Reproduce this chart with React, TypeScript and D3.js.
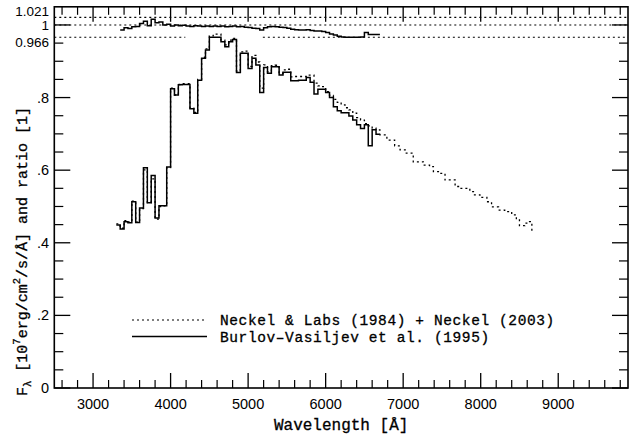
import React from "react";
import * as d3 from "d3";

const W = 633;
const H = 441;

// ---- axis settings / labels ----
const xMajorTicks = [3000, 4000, 5000, 6000, 7000, 8000, 9000];
const yMajorTicks = [0, 0.2, 0.4, 0.6, 0.8];
const yMajorLabels = ["0", ".2", ".4", ".6", ".8"];
const refLevels = [1.021, 1, 0.966];
const refLabels = ["1.021", "1", "0.966"];
const gap966 = [4190, 5190];

// ---- Burlov-Vasiljev et al. (1995): flux, 50 Å bins ----
const burlovEdges = [
  3300, 3350, 3400, 3450, 3500, 3550, 3600, 3650, 3700, 3750, 3800, 3850, 3900, 3950,
  4000, 4050, 4100, 4150, 4200, 4250, 4300, 4350, 4400, 4450, 4500, 4550, 4600, 4650,
  4700, 4750, 4800, 4850, 4900, 4950, 5000, 5050, 5100, 5150, 5200, 5250, 5300, 5350,
  5400, 5450, 5500, 5550, 5600, 5650, 5700, 5750, 5800, 5850, 5900, 5950, 6000, 6050,
  6100, 6150, 6200, 6250, 6300, 6350, 6400, 6450, 6500, 6550, 6600, 6650, 6700,
];
const burlovFlux = [
  0.449, 0.438, 0.458, 0.455, 0.513, 0.456, 0.496, 0.607, 0.51, 0.585, 0.468, 0.502, 0.502, 0.609,
  0.824, 0.807, 0.835, 0.836, 0.836, 0.769, 0.757, 0.848, 0.908, 0.931, 0.966, 0.966, 0.966, 0.954,
  0.94, 0.954, 0.96, 0.869, 0.922, 0.922, 0.88, 0.908, 0.89, 0.814, 0.883, 0.867, 0.885, 0.885,
  0.862, 0.87, 0.87, 0.846, 0.846, 0.848, 0.848, 0.855, 0.842, 0.81, 0.823, 0.823, 0.814, 0.8,
  0.775, 0.764, 0.758, 0.758, 0.749, 0.738, 0.725, 0.715, 0.725, 0.667, 0.711, 0.699,
];

// ---- Neckel & Labs (1984) + Neckel (2003): flux ----
const neckelEdges = [
  3300, 3350, 3400, 3450, 3500, 3550, 3600, 3650, 3700, 3750, 3800, 3850, 3900, 3950,
  4000, 4050, 4100, 4150, 4200, 4250, 4300, 4350, 4400, 4450, 4500, 4550, 4600, 4650,
  4700, 4750, 4800, 4850, 4900, 4950, 5000, 5050, 5100, 5150, 5200, 5250, 5300, 5350,
  5400, 5450, 5500, 5550, 5600, 5650, 5700, 5750, 5800, 5850, 5900, 5950, 6000, 6050,
  6100, 6150, 6200, 6250, 6300, 6350, 6400, 6450, 6500, 6550, 6600, 6650, 6700, 6790,
  6890, 6960, 7040, 7130, 7260, 7340, 7390, 7470, 7540, 7670, 7730, 7860, 7920, 7990,
  8080, 8140, 8230, 8310, 8400, 8460, 8500, 8570, 8630, 8660, 8680,
];
const neckelFlux = [
  0.452, 0.44, 0.461, 0.457, 0.515, 0.457, 0.494, 0.601, 0.511, 0.576, 0.465, 0.5, 0.502, 0.607,
  0.826, 0.807, 0.836, 0.838, 0.838, 0.771, 0.759, 0.85, 0.911, 0.934, 0.97, 0.975, 0.975, 0.958,
  0.945, 0.958, 0.963, 0.873, 0.926, 0.928, 0.886, 0.916, 0.898, 0.826, 0.89, 0.871, 0.888, 0.889,
  0.867, 0.876, 0.878, 0.857, 0.858, 0.858, 0.858, 0.862, 0.862, 0.84, 0.832, 0.83, 0.816, 0.806,
  0.795, 0.787, 0.78, 0.772, 0.766, 0.757, 0.745, 0.738, 0.728, 0.722, 0.716, 0.711, 0.697, 0.683,
  0.667, 0.656, 0.647, 0.623, 0.614, 0.61, 0.596, 0.591, 0.573, 0.555, 0.55, 0.541, 0.532, 0.525,
  0.513, 0.499, 0.49, 0.486, 0.477, 0.463, 0.447, 0.454, 0.458, 0.431,
];

// ---- ratio Burlov / Neckel ----
const ratioEdges = [
  3350, 3400, 3450, 3500, 3550, 3600, 3650, 3700, 3750, 3800, 3850, 3900, 3950,
  4000, 4050, 4100, 4150, 4200, 4250, 4300, 4350, 4400, 4450, 4500, 4550, 4600, 4650,
  4700, 4750, 4800, 4850, 4900, 4950, 5000, 5050, 5100, 5150, 5200, 5250, 5300, 5350,
  5400, 5450, 5500, 5550, 5600, 5650, 5700, 5750, 5800, 5850, 5900, 5950, 6000, 6050,
  6100, 6150, 6200, 6250, 6300, 6350, 6400, 6450, 6500, 6550, 6600, 6650, 6700,
];
const ratioValues = [
  0.986, 0.992, 0.99, 0.995, 0.996, 1.004, 1.01, 0.998, 1.016, 1.006, 1.008, 1.0, 1.002,
  0.997, 1.0, 0.998, 0.999, 0.997, 0.996, 0.998, 0.997, 0.996, 0.997, 0.996, 0.997, 0.996, 0.997,
  0.995, 0.996, 0.997, 0.995, 0.996, 0.994, 0.993, 0.991, 0.99, 0.986, 0.992, 0.995, 0.996, 0.995,
  0.994, 0.993, 0.991, 0.988, 0.987, 0.986, 0.986, 0.987, 0.985, 0.983, 0.983, 0.982, 0.979, 0.975,
  0.972, 0.969, 0.967, 0.966, 0.966, 0.966, 0.966, 0.967, 0.979, 0.974, 0.974, 0.974,
];

const legendLabels = [
  "Neckel & Labs (1984) + Neckel (2003)",
  "Burlov\u2013Vasiljev et al. (1995)",
];

// ---- layout ----
const left = 54.3;
const right = 628;
const top = 6.8;
const bottom = 388;

const x = d3.scaleLinear().domain([2500, 9900]).range([left, right]);
const y = d3.scaleLinear().domain([0, 1.05]).range([bottom, top]);

const SANS = "'Liberation Sans', Arial, Helvetica, sans-serif";
const MONO = "'Liberation Mono', 'Courier New', monospace";
const DOT = "2,3";

function stepPath(edges: number[], vals: number[]): string {
  const pts: [number, number][] = vals.map((v, i) => [edges[i], v] as [number, number]);
  pts.push([edges[edges.length - 1], vals[vals.length - 1]]);
  return (
    d3
      .line<[number, number]>()
      .x((d) => x(d[0]))
      .y((d) => y(d[1]))
      .curve(d3.curveStepAfter)(pts) || ""
  );
}

export default function App() {
  const xMinor = d3.range(2600, 9900, 200).filter((v) => v % 1000 !== 0);
  const yMinor = d3.range(0.05, 1.05, 0.05).filter((v) => Math.abs(v * 5 - Math.round(v * 5)) > 1e-6);
  const XMAJ = 15;
  const XMIN = 8;
  const YMAJ = 16;
  const YMIN = 9;
  const monoStroke = { stroke: "#000", strokeWidth: 0.3 };

  return (
    <svg width={W} height={H} style={{ position: "absolute", left: 0, top: 0, background: "#fff" }}>
      <rect x={0} y={0} width={W} height={H} fill="#fff" />
      {/* reference lines */}
      <line x1={left} x2={right} y1={y(refLevels[0])} y2={y(refLevels[0])} stroke="#000" strokeWidth={1.1} strokeDasharray={DOT} />
      <line x1={left} x2={right} y1={y(refLevels[1])} y2={y(refLevels[1])} stroke="#000" strokeWidth={1.1} strokeDasharray={DOT} />
      <line x1={left} x2={x(gap966[0])} y1={y(refLevels[2])} y2={y(refLevels[2])} stroke="#000" strokeWidth={1.1} strokeDasharray={DOT} />
      <line x1={x(gap966[1])} x2={right} y1={y(refLevels[2])} y2={y(refLevels[2])} stroke="#000" strokeWidth={1.1} strokeDasharray={DOT} />

      {/* curves */}
      <path d={stepPath(neckelEdges, neckelFlux)} fill="none" stroke="#000" strokeWidth={1.3} strokeDasharray={DOT} />
      <path d={stepPath(burlovEdges, burlovFlux)} fill="none" stroke="#000" strokeWidth={1.5} />
      <path d={stepPath(ratioEdges, ratioValues)} fill="none" stroke="#000" strokeWidth={1.5} />

      {/* frame */}
      <rect x={left} y={top} width={right - left} height={bottom - top} fill="none" stroke="#000" strokeWidth={1.6} />

      {/* x ticks */}
      {xMajorTicks.map((t) => (
        <g key={"xM" + t}>
          <line x1={x(t)} x2={x(t)} y1={bottom} y2={bottom - XMAJ} stroke="#000" strokeWidth={1.3} />
          <line x1={x(t)} x2={x(t)} y1={top} y2={top + XMAJ} stroke="#000" strokeWidth={1.3} />
          <text x={x(t)} y={408.5} textAnchor="middle" fontFamily={SANS} fontSize={14.5}>
            {t}
          </text>
        </g>
      ))}
      {xMinor.map((t) => (
        <g key={"xm" + t}>
          <line x1={x(t)} x2={x(t)} y1={bottom} y2={bottom - XMIN} stroke="#000" strokeWidth={1.2} />
          <line x1={x(t)} x2={x(t)} y1={top} y2={top + XMIN} stroke="#000" strokeWidth={1.2} />
        </g>
      ))}

      {/* y ticks */}
      {[...yMajorTicks, refLevels[1]].map((t) => (
        <g key={"yM" + t}>
          <line x1={left} x2={left + YMAJ} y1={y(t)} y2={y(t)} stroke="#000" strokeWidth={1.3} />
          <line x1={right} x2={right - YMAJ} y1={y(t)} y2={y(t)} stroke="#000" strokeWidth={1.3} />
        </g>
      ))}
      {yMajorTicks.map((t, i) => (
        <text key={"yl" + t} x={49} y={y(t) + 5} textAnchor="end" fontFamily={SANS} fontSize={14.5}>
          {yMajorLabels[i]}
        </text>
      ))}
      {yMinor.map((t) => (
        <g key={"ym" + t.toFixed(2)}>
          <line x1={left} x2={left + YMIN} y1={y(t)} y2={y(t)} stroke="#000" strokeWidth={1.2} />
          <line x1={right} x2={right - YMIN} y1={y(t)} y2={y(t)} stroke="#000" strokeWidth={1.2} />
        </g>
      ))}
      <text x={49} y={y(refLevels[0]) - 1} textAnchor="end" fontFamily={SANS} fontSize={13.5}>
        {refLabels[0]}
      </text>
      <text x={49} y={y(refLevels[1]) + 5.5} textAnchor="end" fontFamily={SANS} fontSize={13.5}>
        {refLabels[1]}
      </text>
      <text x={49} y={y(refLevels[2]) + 10} textAnchor="end" fontFamily={SANS} fontSize={13.5}>
        {refLabels[2]}
      </text>

      {/* axis titles */}
      <text x={(left + right) / 2} y={430} textAnchor="middle" fontFamily={MONO} fontSize={16} {...monoStroke}>
        Wavelength [Å]
      </text>
      <text transform="translate(27,396) rotate(-90)" fontFamily={MONO} fontSize={15} {...monoStroke}>
        F
        <tspan fontSize={10.5} dy={4}>λ</tspan>
        <tspan dy={-4}> [10</tspan>
        <tspan fontSize={10.5} dy={-7}>7</tspan>
        <tspan dy={7}>erg/cm</tspan>
        <tspan fontSize={10.5} dy={-7}>2</tspan>
        <tspan dy={7}>/s/Å] and ratio [1]</tspan>
      </text>

      {/* legend */}
      <line x1={132} x2={207} y1={320} y2={320} stroke="#000" strokeWidth={1.2} strokeDasharray={DOT} />
      <text x={220} y={324.5} fontFamily={MONO} fontSize={14.5} letterSpacing={0.6} {...monoStroke}>
        {legendLabels[0]}
      </text>
      <line x1={132} x2={207} y1={336.5} y2={336.5} stroke="#000" strokeWidth={1.5} />
      <text x={220} y={341.5} fontFamily={MONO} fontSize={14.5} letterSpacing={0.6} {...monoStroke}>
        {legendLabels[1]}
      </text>
    </svg>
  );
}
